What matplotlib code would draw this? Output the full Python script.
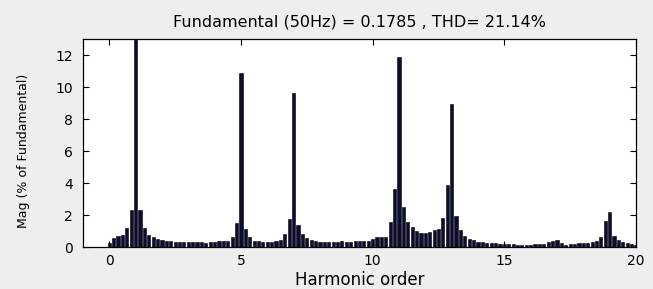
import numpy as np
import matplotlib
matplotlib.use('Agg')
import matplotlib.pyplot as plt

# spectrum, one bar every 1/6 of a harmonic (0 .. 20)
bins_per_harmonic = 6
mag = [
    0.27, 0.58, 0.67, 0.75, 1.17, 2.30,                 # 0 .. 0.83
    100.0, 2.30, 1.17, 0.75, 0.65, 0.50,                # 1 ..
    0.44, 0.38, 0.35, 0.33, 0.33, 0.34,                 # 2 ..
    0.33, 0.30, 0.33, 0.33, 0.28, 0.30,                 # 3 ..
    0.33, 0.35, 0.38, 0.38, 0.65, 1.48,                 # 4 ..
    10.85, 1.15, 0.65, 0.38, 0.35, 0.33,                # 5 ..
    0.33, 0.33, 0.35, 0.44, 0.80, 1.73,                 # 6 ..
    9.60, 1.37, 0.83, 0.58, 0.44, 0.35,                 # 7 ..
    0.33, 0.33, 0.33, 0.30, 0.33, 0.35,                 # 8 ..
    0.33, 0.33, 0.35, 0.35, 0.38, 0.40,                 # 9 ..
    0.48, 0.60, 0.65, 0.65, 1.56, 3.60,                 # 10 ..
    11.85, 2.50, 1.54, 1.23, 1.02, 0.90,                # 11 ..
    0.90, 0.92, 1.06, 1.15, 1.80, 3.90,                 # 12 ..
    8.95, 1.94, 1.06, 0.67, 0.52, 0.44,                 # 13 ..
    0.30, 0.29, 0.27, 0.25, 0.22, 0.20,                 # 14 ..
    0.20, 0.18, 0.17, 0.15, 0.15, 0.14,                 # 15 ..
    0.15, 0.16, 0.18, 0.20, 0.30, 0.38,                 # 16 ..
    0.44, 0.23, 0.15, 0.18, 0.20, 0.22,                 # 17 ..
    0.25, 0.27, 0.33, 0.38, 0.65, 1.65,                 # 18 ..
    2.20, 0.69, 0.44, 0.31, 0.23, 0.19,                 # 19 ..
    0.10,                                               # 20
]
harmonic = np.arange(len(mag)) / bins_per_harmonic

fundamental = 0.1785
thd = 21.14

fig = plt.figure(figsize=(6.53, 2.89), dpi=100, facecolor='#eeeeee')
ax = fig.add_axes([0.127, 0.1453, 0.847, 0.7197])
ax.set_facecolor('white')

ax.bar(harmonic, mag, width=0.12, color='#0b0b33', edgecolor='black', linewidth=0.4)

ax.set_xlim(-1, 20)
ax.set_ylim(0, 13)
ax.set_xticks([0, 5, 10, 15, 20])
ax.set_yticks([0, 2, 4, 6, 8, 10, 12])
ax.tick_params(direction='in', top=True, right=True, length=4, width=0.8,
               labelsize=10, pad=5)
ax.tick_params(axis='y', pad=7)
for s in ax.spines.values():
    s.set_color('black')
    s.set_linewidth(0.9)

ax.set_title('Fundamental (50Hz) = %.4f , THD= %.2f%%' % (fundamental, thd),
             fontsize=11.5, pad=9)
ax.set_xlabel('Harmonic order', fontsize=12, labelpad=2)
ax.set_ylabel('Mag (% of Fundamental)', fontsize=9, labelpad=12)
ax.yaxis.set_label_coords(-0.095, 0.46)

plt.savefig('out.png', dpi=100, facecolor=fig.get_facecolor())
plt.close()
